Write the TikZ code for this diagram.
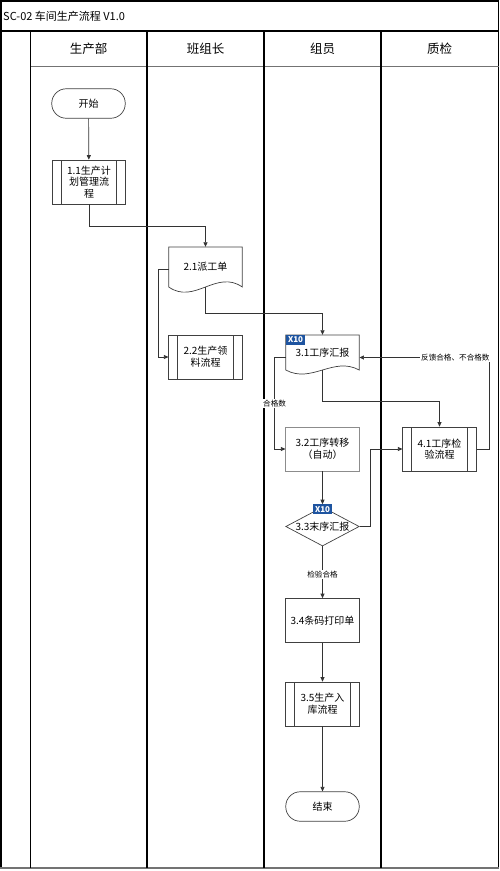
\documentclass[tikz,border=0pt]{standalone}
\usepackage{fontspec}
\setmainfont{Noto Sans CJK SC}
\usetikzlibrary{arrows.meta,shapes.geometric,calc}
\definecolor{badgeblue}{RGB}{30,84,160}
\begin{document}
\begin{tikzpicture}[x=1pt,y=-1pt,
  frameline/.style={line width=1.3pt,black},
  boxline/.style={draw=black!75,line width=0.7pt},
  pbox/.style={boxline,rectangle,minimum width=73.5pt,minimum height=44pt,inner sep=1pt,align=center,font=\fontsize{10}{11.7}\selectfont},
  graybox/.style={pbox,draw=black!45},
  subproc/.style={pbox,path picture={
     \draw[black!75,line width=0.7pt] ([xshift=9pt]path picture bounding box.north west) -- ([xshift=9pt]path picture bounding box.south west);
     \draw[black!75,line width=0.7pt] ([xshift=-9pt]path picture bounding box.north east) -- ([xshift=-9pt]path picture bounding box.south east);}},
  termbox/.style={pbox,rounded corners=14.5pt,minimum height=29.5pt},
  docnode/.style={rectangle,draw=none,minimum width=73.5pt,inner sep=1pt,align=center,font=\fontsize{10}{11.7}\selectfont},
  diabox/.style={boxline,diamond,minimum width=73.5pt,minimum height=39pt,inner sep=0pt,font=\fontsize{10}{11.7}\selectfont},
  badge/.style={fill=badgeblue,text=white,font=\fontsize{8}{8}\selectfont\bfseries,inner sep=0pt,minimum width=19pt,minimum height=9.5pt},
  lbl/.style={fill=white,inner sep=1pt,font=\fontsize{7.6}{8}\selectfont},
  hdr/.style={font=\fontsize{12.5}{14}\selectfont,inner sep=0pt},
  conn/.style={draw=black!80,line width=0.7pt,-{Triangle[length=4.5pt,width=4pt]}}
]
\useasboundingbox (0,0) rectangle (500,871);
% frame
\draw[frameline] (1,868) -- (1,1) -- (498.5,1) -- (498.5,868);
\draw[line width=1.6pt,black!55] (0.4,868) -- (499.1,868);
\draw[frameline] (1,31) -- (498.5,31);
\draw[line width=1pt,black!55] (30.5,66) -- (498.5,66);
\foreach \x in {30.5,147,264,381} \draw[frameline] (\x,31) -- (\x,868);
% title and headers
\node[anchor=west,font=\fontsize{11}{13}\selectfont,inner sep=0pt] (title) at (3,16) {SC-02 车间生产流程 V1.0};
\node[hdr] (h1) at (88.5,49) {生产部};
\node[hdr] (h2) at (205.5,49) {班组长};
\node[hdr] (h3) at (322.5,49) {组员};
\node[hdr] (h4) at (439.5,49) {质检};
% nodes
\node[termbox] (start) at (88.5,103.5) {开始};
\node[subproc] (p11) at (89,182) {1.1生产计\\划管理流\\程};
\node[docnode,minimum height=40pt] (d21) at (205.5,267) {\raisebox{2pt}{2.1派工单}};
\draw[boxline] (168.7,247) -- (242.3,247) -- (242.3,287) .. controls (216.5,269) and (194.5,305) .. (168.7,287) -- cycle;
\node[subproc] (p22) at (205.5,357) {2.2生产领\\料流程};
\node[docnode,minimum height=35pt] (d31) at (322.5,352.5) {3.1工序汇报};
\draw[boxline] (285.8,335) -- (359.2,335) -- (359.2,370) .. controls (333.5,356) and (311.5,384) .. (285.8,370) -- cycle;
\node[badge,anchor=north west] (x1) at (285.8,335) {X10};
\node[graybox] (p32) at (322.5,449) {3.2工序转移\\（自动）};
\node[subproc] (p41) at (439.5,449) {4.1工序检\\验流程};
\node[diabox] (dia) at (322.5,526.5) {\makebox[0pt]{3.3末序汇报}};
\node[badge] (x2) at ([yshift=-2.5pt]dia.north) {X10};
\node[pbox] (p34) at (322.5,620.5) {3.4条码打印单};
\node[subproc] (p35) at (322.5,704) {3.5生产入\\库流程};
\node[termbox] (end) at (322.5,806.5) {结束};
% connectors
\draw[conn] (start) -- (p11);
\draw[conn] (p11.south) -- ++(0,22) -| (d21.north);
\draw[conn] ([yshift=-2pt]d21.west) -- ++(-10.4,0) |- (p22.west);
\draw[conn] (d21.south) -- ++(0,26.3) -| (d31.north);
\draw[conn] ([yshift=-5pt]d31.west) -- ++(-11,0) |- node[lbl,pos=0.25]{合格数} (p32.west);
\draw[conn] (d31.south) -- ++(0,30.7) -| (p41.north);
\draw[conn] (p41.east) -- ++(12.3,0) |- node[lbl,pos=0.5,anchor=east,xshift=2pt]{反馈合格、不合格数} ([yshift=-5pt]d31.east);
\draw[conn] (p32.south) -- (x2.north);
\draw[conn] (dia.east) -- ++(10.7,0) |- (p41.west);
\draw[conn] (dia.south) -- node[lbl,pos=0.54]{检验合格} (p34.north);
\draw[conn] (p34) -- (p35);
\draw[conn] (p35) -- (end);
\end{tikzpicture}
\end{document}
